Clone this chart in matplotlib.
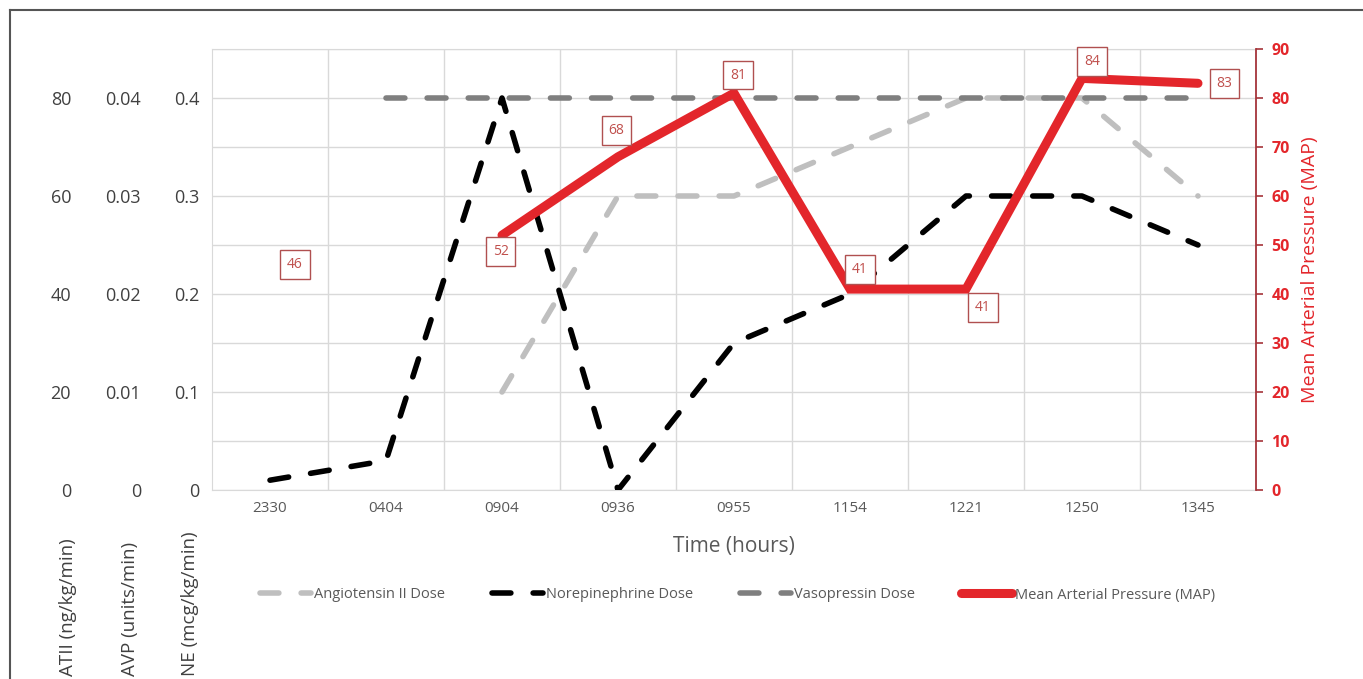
import matplotlib
matplotlib.use('Agg')
import matplotlib.pyplot as plt
import numpy as np
from matplotlib.ticker import MultipleLocator, FixedLocator
from matplotlib.lines import Line2D

# ---------------- data ----------------
times = ['2330', '0404', '0904', '0936', '0955', '1154', '1221', '1250', '1345']
atii_dose = [np.nan, np.nan, 20, 60, 60, 70, 80, 80, 60]          # ng/kg/min
ne_dose = [0.01, 0.03, 0.4, 0.0, 0.15, 0.2, 0.3, 0.3, 0.25]        # mcg/kg/min
avp_dose = [np.nan, 0.04, 0.04, 0.04, 0.04, 0.04, 0.04, 0.04, 0.04]  # units/min
map_vals = [46, np.nan, 52, 68, 81, 41, 41, 84, 83]                # mmHg

atii_ticks = [0, 20, 40, 60, 80]
atii_labels = ['0', '20', '40', '60', '80']
avp_ticks = [0, 0.01, 0.02, 0.03, 0.04]
avp_labels = ['0', '0.01', '0.02', '0.03', '0.04']
ne_ticks = [0, 0.1, 0.2, 0.3, 0.4]
ne_labels = ['0', '0.1', '0.2', '0.3', '0.4']
map_ticks = [0, 10, 20, 30, 40, 50, 60, 70, 80, 90]

# label offsets (points) for MAP data labels
label_offsets = [(18, 0), None, (-1, -12), (-1, 19), (3, 13), (7, 14), (12, -13), (7, 12), (19, 0)]

plt.rcParams['font.family'] = ['Open Sans', 'DejaVu Sans']

W, H = 1363, 679
fig = plt.figure(figsize=(W / 100, H / 100), dpi=100)
rect = [212 / W, 1 - 490 / H, (1256 - 212) / W, 441 / H]

x = np.arange(len(times))
grid_c = '#d9d9d9'
tick_c = '#404040'
red = '#e3262b'
red_dark = '#a5343a'

dash = (0, (3.4, 4.0))
dlw = 4.0

# base axes: angiotensin II + grid
ax = fig.add_axes(rect)
ax.set_xlim(-0.5, len(times) - 0.5)
ax.set_ylim(0, 90)
ax.set_xticks(x, times)
ax.xaxis.set_minor_locator(FixedLocator(np.arange(0.5, len(times) - 1, 1.0)))
ax.tick_params(axis='x', which='both', length=0, pad=8, labelsize=11, labelcolor='#595959')
ax.grid(True, axis='x', which='minor', color=grid_c, lw=1)
ax.yaxis.set_minor_locator(MultipleLocator(10))
ax.grid(True, axis='y', which='both', color=grid_c, lw=1)
ax.set_yticks(atii_ticks, atii_labels)
ax.spines['left'].set_position(('axes', -0.135))
ax.spines['left'].set_visible(False)
ax.spines['right'].set_visible(False)
ax.spines['top'].set_color(grid_c)
ax.spines['bottom'].set_color(grid_c)
ax.tick_params(axis='y', which='both', length=0, pad=0, labelsize=13, labelcolor=tick_c)
ax.set_axisbelow(True)
ax.set_xlabel('Time (hours)', fontsize=15, color='#595959', labelpad=14)
l_atii, = ax.plot(x, atii_dose, color='#bfbfbf', lw=dlw, ls=dash, dash_capstyle='round',
                  label='Angiotensin II Dose')

# NE axis
ax_ne = ax.twinx()
ax_ne.set_ylim(0, 0.45)
ax_ne.yaxis.tick_left()
ax_ne.set_yticks(ne_ticks, ne_labels)
for s in ['right', 'top', 'bottom']:
    ax_ne.spines[s].set_visible(False)
ax_ne.spines['left'].set_color(grid_c)
ax_ne.tick_params(axis='y', length=0, pad=9, labelsize=13, labelcolor=tick_c)
l_ne, = ax_ne.plot(x, ne_dose, color='black', lw=dlw, ls=dash, dash_capstyle='round',
                   label='Norepinephrine Dose')

# AVP axis
ax_avp = ax.twinx()
ax_avp.set_ylim(0, 0.045)
ax_avp.yaxis.tick_left()
ax_avp.spines['left'].set_position(('axes', -0.068))
for s in ['left', 'right', 'top', 'bottom']:
    ax_avp.spines[s].set_visible(False)
ax_avp.set_yticks(avp_ticks, avp_labels)
ax_avp.tick_params(axis='y', length=0, pad=0, labelsize=13, labelcolor=tick_c)
l_avp, = ax_avp.plot(x, avp_dose, color='#7f7f7f', lw=dlw, ls=dash, dash_capstyle='round',
                     label='Vasopressin Dose')

# MAP axis
ax_map = ax.twinx()
ax_map.set_ylim(0, 90)
ax_map.set_yticks(map_ticks)
for s in ['left', 'top', 'bottom']:
    ax_map.spines[s].set_visible(False)
ax_map.spines['right'].set_color(red_dark)
ax_map.spines['right'].set_linewidth(1.3)
ax_map.tick_params(axis='y', length=5, width=1.2, color=red_dark, pad=6, labelsize=11.5,
                   labelcolor=red)
for t in ax_map.get_yticklabels():
    t.set_fontweight('bold')
ax_map.set_ylabel('Mean Arterial Pressure (MAP)', fontsize=14, color=red, labelpad=8)
l_map, = ax_map.plot(x, map_vals, color=red, lw=6.5, solid_capstyle='round',
                     solid_joinstyle='miter', label='Mean Arterial Pressure (MAP)')

for xi, v, off in zip(x, map_vals, label_offsets):
    if off is None or np.isnan(v):
        continue
    ax_map.annotate(f'{v:g}', xy=(xi, v), xytext=off, textcoords='offset points',
                    ha='center', va='center', fontsize=10, color='#c0504d',
                    bbox=dict(boxstyle='square,pad=0.5', fc='white', ec='#b05050', lw=1))

# rotated unit labels under the left tick columns
for xpix, txt in [(68, 'ATII (ng/kg/min)'), (130, 'AVP (units/min)'), (190, 'NE (mcg/kg/min)')]:
    fig.text(xpix / W, 3 / H, txt, rotation=90, ha='center', va='bottom',
             fontsize=13.5, color=tick_c)

# legend
fig.legend(handles=[l_atii, l_ne, l_avp, l_map], loc='center', ncol=4,
           bbox_to_anchor=(738 / W, 1 - 595 / H), frameon=False, fontsize=10.5,
           labelcolor='#595959', handlelength=3.5, handletextpad=0.2, columnspacing=3.2)

# outer frame (top and left edges)
fig.add_artist(Line2D([10 / W, 10 / W], [0, 1 - 10 / H], color='#555555', lw=1.5,
                      transform=fig.transFigure))
fig.add_artist(Line2D([10 / W, 1], [1 - 10 / H, 1 - 10 / H], color='#555555', lw=1.5,
                      transform=fig.transFigure))

fig.savefig('out.png', dpi=100)
